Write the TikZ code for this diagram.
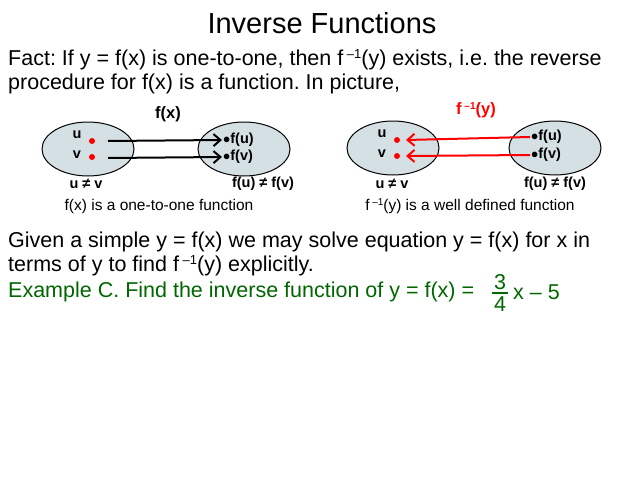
\documentclass[tikz,border=0pt]{standalone}
\usepackage{fontspec}
\usetikzlibrary{shapes.geometric,arrows.meta}
\setmainfont{Liberation Sans}
\frenchspacing
\begin{document}
\begin{tikzpicture}[x=1pt,y=-1pt,
 ell/.style={draw,line width=1pt,fill=cyan!25!gray!30,ellipse,minimum width=92pt,minimum height=54pt},
 lab/.style={font=\bfseries\fontsize{14.5}{16}\selectfont,inner sep=1pt},
 rdot/.style={circle,fill=red,inner sep=0pt,minimum size=6pt},
 txt/.style={anchor=west,inner sep=0,font=\fontsize{21.5}{25}\selectfont},
 captxt/.style={font=\fontsize{15.5}{18}\selectfont},
 arr/.style={line width=2pt,-{Straight Barb[length=7pt,width=12pt]}}]
\useasboundingbox (0,0) rectangle (638,479);
\node[font=\fontsize{29}{33}\selectfont] (title) at (322,23) {Inverse Functions};
\node[txt] (l1) at (8,60) {Fact: If y = f(x) is one-to-one, then f\,\raisebox{0.6ex}{\fontsize{13}{14}\selectfont –1}(y) exists, i.e. the reverse};
\node[txt] (l2) at (8,84) {procedure for f(x) is a function. In picture,};
% left diagram
\node[ell] (A) at (88,149) {};
\node[ell] (B) at (244,149) {};
\node[rdot] (u1) at (92,141) {}; \node[rdot] (v1) at (92,157) {};
\node[lab] at (77,135) {u}; \node[lab] at (77,155) {v};
\node[lab,anchor=west] (fu1) at (222,140) {$\bullet$f(u)};
\node[lab,anchor=west] (fv1) at (222,157) {$\bullet$f(v)};
\draw[arr] (108,141) -- (fu1.west);
\draw[arr] (108,158) -- (fv1.west);
\node[lab,font=\bfseries\fontsize{16.5}{18}\selectfont] at (168,114) {f(x)};
\node[lab] at (86,184) {u ≠ v};
\node[lab] at (263,184) {f(u) ≠ f(v)};
\node[captxt] at (159,206) {f(x) is a one-to-one function};
% right diagram
\node[ell] (C) at (393,148) {};
\node[ell] (D) at (555,148) {};
\node[rdot] (u2) at (397,140) {}; \node[rdot] (v2) at (397,156) {};
\node[lab] at (382,134) {u}; \node[lab] at (382,154) {v};
\node[lab,anchor=west] (fu2) at (530,137) {$\bullet$f(u)};
\node[lab,anchor=west] (fv2) at (530,155) {$\bullet$f(v)};
\draw[arr,red] (fu2.west) -- (406,140);
\draw[arr,red] (fv2.west) -- (406,156);
\node[lab,red,font=\bfseries\fontsize{16.5}{18}\selectfont] at (476,110) {f\,\raisebox{0.6ex}{\fontsize{10}{11}\selectfont –1}(y)};
\node[lab] at (392,184) {u ≠ v};
\node[lab] at (555,184) {f(u) ≠ f(v)};
\node[captxt] at (470,206) {f\,\raisebox{0.6ex}{\fontsize{10}{11}\selectfont –1}(y) is a well defined function};
% bottom
\node[txt] (g1) at (8,242) {Given a simple y = f(x) we may solve equation y = f(x) for x in};
\node[txt] (g2) at (8,266) {terms of y to find f\,\raisebox{0.6ex}{\fontsize{13}{14}\selectfont –1}(y) explicitly.};
\begin{scope}[text=green!40!black]
\node[txt] (ex) at (8,292) {Example C. Find the inverse function of y = f(x) =};
\node[txt] (num) at (494,282) {3};
\node[txt] (den) at (494,304) {4};
\draw[green!40!black,line width=1.2pt] (492,293) -- (508,293);
\node[txt] (xm) at (513,292) {x – 5};
\end{scope}
\end{tikzpicture}
\end{document}
